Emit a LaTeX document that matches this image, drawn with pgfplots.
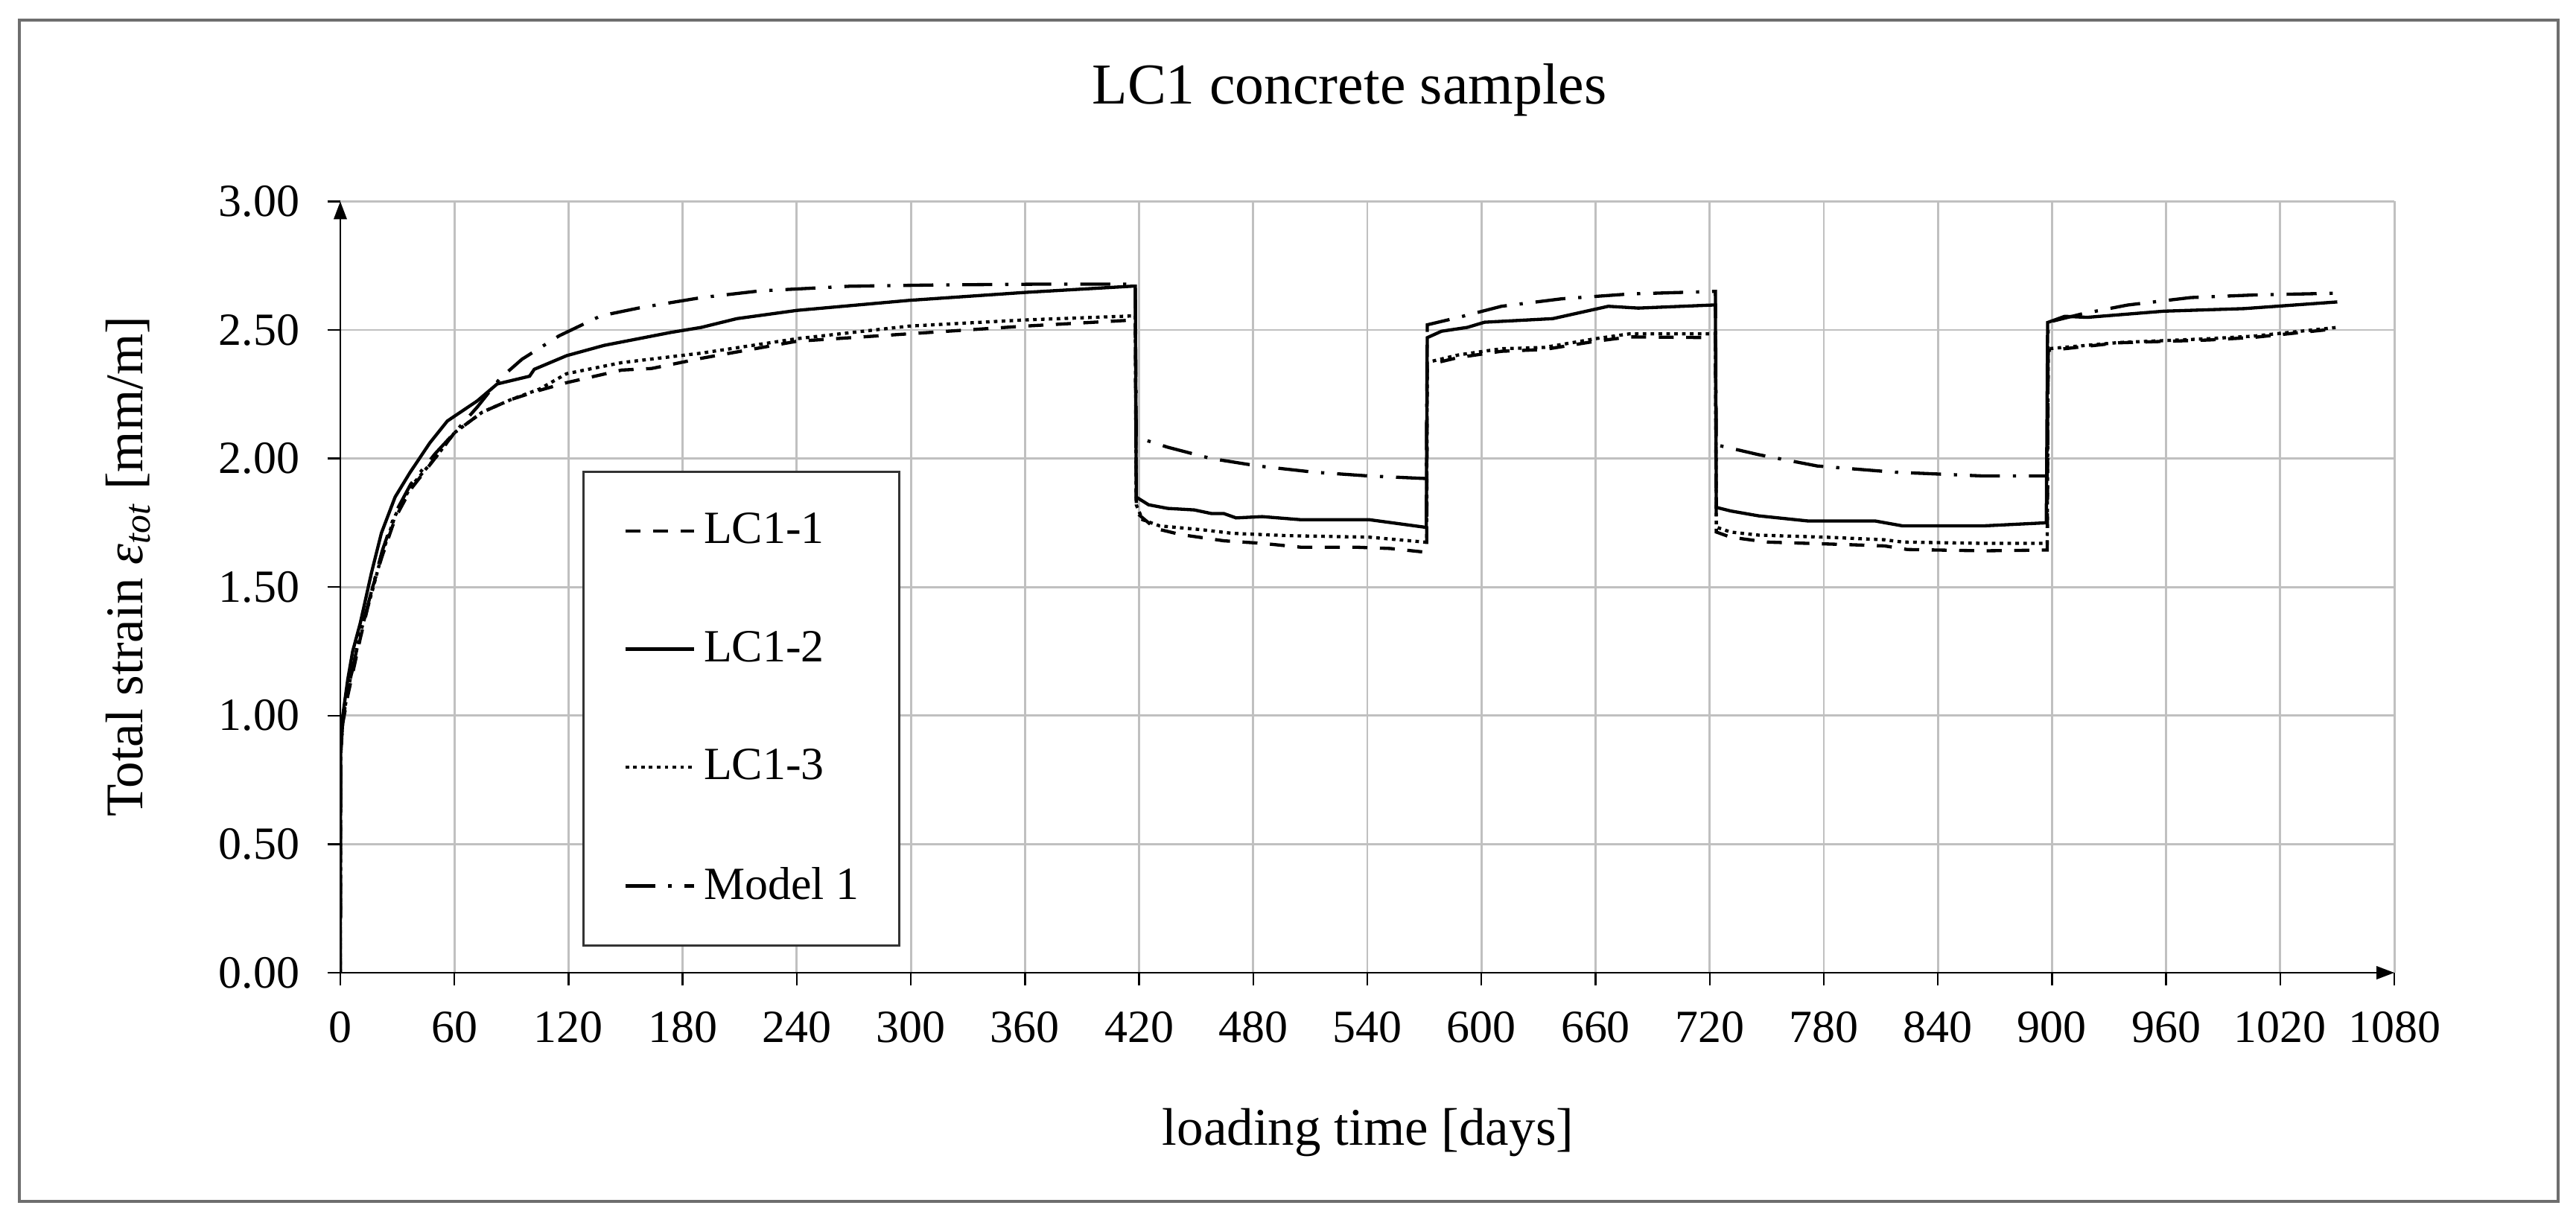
\documentclass[border=0pt]{standalone}
\usepackage{fontspec}
\setmainfont{Liberation Serif}
\usepackage{pgfplots}
\pgfplotsset{compat=1.18}
\usetikzlibrary{arrows.meta}
\definecolor{gridgray}{RGB}{192,192,192}
\definecolor{framegray}{RGB}{110,110,110}

\begin{document}
\begin{tikzpicture}
\useasboundingbox (0,0) rectangle (720.625pt,341.04pt);
\draw[line width=1pt, color=framegray] (5.42pt,5.0pt) rectangle (715.6pt,335.4pt);
\begin{axis}[
  at={(95.2pt,68.96pt)}, anchor=south west,
  scale only axis, width=574.6pt, height=215.75pt,
  xmin=0, xmax=1080, ymin=0, ymax=3,
  enlargelimits=false,
  xtick={0,60,...,1080},
  ytick={0,0.5,1,1.5,2,2.5,3},
  axis lines=left,
  axis line style={line width=0.6pt, black, -{Triangle[length=5pt,width=3.6pt]}},
  grid=major,
  grid style={line width=0.6pt, color=gridgray},
  tick align=outside,
  major tick length=3.6pt,
  tick style={black, line width=0.5pt},
  /pgf/number format/assume math mode=true,
  /pgf/number format/1000 sep={},
  yticklabel style={/pgf/number format/fixed, /pgf/number format/fixed zerofill, /pgf/number format/precision=2,
     anchor=east, inner sep=0pt, xshift=-7.6pt, font=\fontsize{12.9}{15}\selectfont},
  xticklabel style={anchor=north, inner sep=0pt, yshift=-7.2pt, font=\fontsize{12.9}{15}\selectfont},
  title={LC1 concrete samples},
  title style={at={(axis description cs:0.4913,1.0989)}, anchor=base, inner sep=0pt, font=\fontsize{16.2}{19}\selectfont},
  xlabel={loading time [days]},
  xlabel style={at={(axis description cs:0.5004,-0.224)}, anchor=base, inner sep=0pt, font=\fontsize{14.8}{17}\selectfont},
  ylabel={Total strain {\itshape ε\textsubscript{tot}} [mm/m]},
  ylabel style={at={(axis description cs:-0.0964,0.5263)}, anchor=base, inner sep=0pt, font=\fontsize{14.8}{17}\selectfont},
  legend image code/.code={\draw[#1] (0pt,0pt) -- (19.2pt,0pt);},
  legend cell align=left,
  legend style={at={(axis description cs:0.1178,0.6508)}, anchor=north west,
     draw=black!80, line width=0.6pt, fill=white,
     font=\fontsize{12.9}{15}\selectfont,
     nodes={inner sep=0pt},
     inner xsep=11.3pt, inner ysep=11.5pt,
     row sep=23pt, column sep=2.3pt},
  every axis plot/.append style={line width=0.9pt, black},
]

% LC1-1
\addplot[dash pattern=on 4.2pt off 3.5pt] coordinates {
(0,0) (0.2,0.85) (1.3,0.97) (4,1.08) (10.5,1.30) (17,1.50) (22,1.62) (29,1.77) (37,1.88)
(49.7,2.00) (60,2.10) (74.6,2.18) (90,2.23) (104.7,2.265) (119,2.295) (148,2.344) (163.6,2.35)
(190,2.39) (240,2.456) (299,2.485) (360,2.515) (418,2.539)
(418.5,1.79) (428.5,1.728) (442,1.704) (464.5,1.68) (484.7,1.67) (505,1.655) (534,1.655)
(552,1.65) (570,1.636) (571.2,1.636)
(571.5,2.364) (588,2.393) (610.5,2.417) (633,2.424) (660,2.456) (678,2.473) (723,2.47)
(723.5,1.714) (731,1.694) (750,1.675) (793,1.665) (812,1.66) (824,1.646) (864,1.641) (897.5,1.644)
(898,2.42) (935,2.45) (982.5,2.461) (1006,2.471) (1050,2.505)
};
\addlegendentry{LC1-1}

% LC1-2
\addplot[solid] coordinates {
(0,0) (0.2,0.85) (1.3,1.0) (3.9,1.14) (6.5,1.25) (10.5,1.36) (16.4,1.556) (21.6,1.71) (28.8,1.85)
(36.6,1.945) (47,2.06) (56.3,2.146) (72,2.224) (82.5,2.29) (99.5,2.32) (102,2.347) (119,2.40)
(138.7,2.44) (173.5,2.49) (189.8,2.51) (208.5,2.544) (240,2.576) (299,2.615) (360,2.646)
(416,2.67) (418,2.67)
(418.5,1.85) (425,1.82) (435,1.806) (449,1.80) (458,1.786) (464.5,1.786) (471,1.769) (484.7,1.774)
(505,1.762) (541,1.762) (570,1.733) (571,1.733)
(571.5,2.47) (579,2.495) (592.6,2.51) (601.6,2.53) (637.5,2.544) (666.7,2.592) (682.5,2.585)
(721.8,2.597) (723,2.597)
(723.5,1.81) (731,1.796) (745.7,1.777) (771.7,1.757) (807,1.757) (821.4,1.738) (864,1.738) (897,1.75)
(897.7,2.529) (906.7,2.553) (918.5,2.549) (958.8,2.573) (1001,2.583) (1050,2.609)
};
\addlegendentry{LC1-2}

% LC1-3
\addplot[dash pattern=on 1pt off 1.2pt] coordinates {
(0,0) (0.2,0.85) (1.3,0.98) (4,1.10) (10.5,1.32) (17,1.49) (22,1.63) (29,1.78) (37,1.89)
(49.7,2.00) (60,2.10) (74.6,2.18) (90,2.23) (104.7,2.27) (119,2.33) (148,2.373) (190,2.41)
(240,2.466) (299,2.515) (360,2.539) (418,2.555)
(418.5,1.82) (421.8,1.762) (430.8,1.738) (453,1.723) (469,1.709) (498,1.70) (541,1.694)
(570,1.675) (571.2,1.675)
(571.5,2.374) (588,2.403) (610.5,2.427) (633,2.432) (660,2.466) (678,2.485) (723,2.485)
(723.5,1.733) (731,1.714) (745.7,1.702) (781,1.694) (812,1.684) (821.4,1.675) (864,1.67) (897.5,1.67)
(898,2.427) (935,2.451) (982.5,2.466) (1006,2.476) (1050,2.51)
};
\addlegendentry{LC1-3}

% Model 1
\addplot[dash pattern=on 8.4pt off 3.6pt on 0.9pt off 3.6pt] coordinates {
(0,0) (0.2,0.85) (1.3,0.98) (4,1.10) (10.5,1.32) (17,1.50) (22,1.64) (29,1.79) (37,1.90)
(50,2.02) (60,2.10) (72,2.20) (83.8,2.31) (95.5,2.386) (115,2.477) (137,2.555) (158,2.587)
(190,2.626) (220.7,2.652) (267.8,2.67) (313,2.675) (365.5,2.678) (418,2.678)
(418.5,2.083) (435,2.044) (457.8,2.0) (482.5,1.971) (511.7,1.947) (541,1.932) (571,1.922)
(571.5,2.52) (588,2.549) (610.5,2.592) (642,2.621) (678,2.64) (723,2.65)
(723.5,2.053) (745.7,2.015) (776.5,1.971) (816.7,1.947) (864,1.932) (897.5,1.932)
(898,2.53) (916,2.563) (939.8,2.597) (973,2.626) (1006,2.636) (1050,2.643)
};
\addlegendentry{Model 1}

\end{axis}
\end{tikzpicture}
\end{document}
